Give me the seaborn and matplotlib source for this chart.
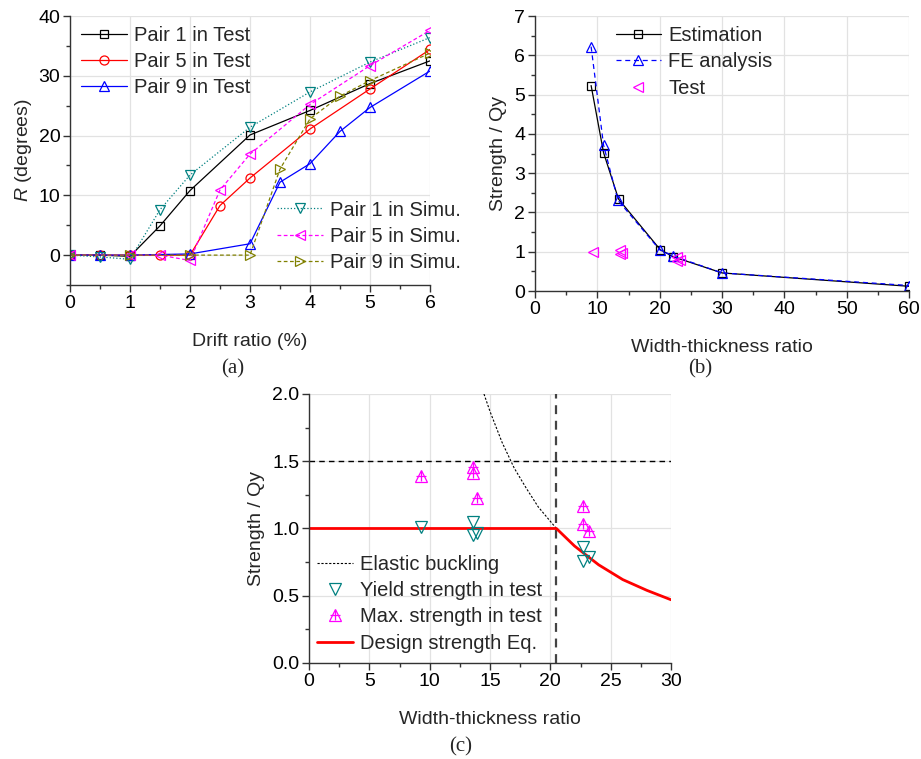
import matplotlib
matplotlib.use("Agg")
import matplotlib.pyplot as plt
from matplotlib.ticker import MultipleLocator, FormatStrFormatter
from matplotlib.lines import Line2D
import numpy as np
import pandas as pd
import seaborn as sns

# ---------------- data ----------------
# (a) residual rotation R vs drift ratio
drift_p1_test = [0, 0.5, 1, 1.5, 2, 3, 4, 5, 6]
r_p1_test = [0.0, 0.0, -0.2, 4.9, 10.8, 20.1, 24.2, 28.7, 32.5]
drift_p5_test = [0, 0.5, 1, 1.5, 2, 2.5, 3, 4, 5, 6]
r_p5_test = [0.0, 0.0, 0.0, 0.0, 0.0, 8.3, 12.9, 21.1, 27.8, 34.4]
drift_p9_test = [0, 0.5, 1, 2, 3, 3.5, 4, 4.5, 5, 6]
r_p9_test = [0.0, 0.0, 0.0, 0.2, 1.9, 12.2, 15.3, 20.7, 24.7, 30.8]
drift_p1_simu = [0, 0.5, 1, 1.5, 2, 3, 4, 5, 6]
r_p1_simu = [0.0, -0.3, -0.7, 7.6, 13.4, 21.4, 27.3, 32.3, 36.4]
drift_p5_simu = [0, 1, 1.5, 2, 2.5, 3, 4, 5, 6]
r_p5_simu = [0.0, 0.0, 0.0, -0.9, 10.9, 16.9, 25.2, 31.7, 37.6]
drift_p9_simu = [0, 1, 2, 3, 3.5, 4, 4.5, 5, 6]
r_p9_simu = [0.0, 0.0, 0.0, 0.0, 14.4, 22.8, 26.6, 29.2, 33.8]

# (b) strength ratio vs width-thickness ratio
wt_est = [9.0, 11.0, 13.4, 20.1, 22.2, 30.0, 60.0]
s_est = [5.23, 3.52, 2.34, 1.05, 0.87, 0.46, 0.12]
wt_fe = [9.0, 11.0, 13.3, 20.0, 22.2, 30.0, 60.0]
s_fe = [6.22, 3.71, 2.31, 1.05, 0.89, 0.46, 0.14]
wt_test = [9.3, 13.6, 13.6, 13.9, 22.7, 22.7, 23.2]
s_test = [1.00, 1.05, 0.95, 0.96, 0.86, 0.76, 0.79]

# (c) design check
wt_yield = [9.26, 13.63, 13.63, 13.9, 22.67, 22.67, 23.2]
s_yield = [1.01, 1.05, 0.95, 0.97, 0.86, 0.76, 0.79]
wt_max = [9.26, 13.63, 13.63, 13.9, 22.67, 22.67, 23.17]
s_max = [1.39, 1.46, 1.41, 1.23, 1.17, 1.03, 0.98]
wt_elastic = [14.5, 15.0, 16.0, 17.0, 18.0, 19.0, 20.5]
s_elastic = [2.00, 1.87, 1.64, 1.45, 1.30, 1.16, 1.00]
wt_design = [0, 20.5, 22.0, 24.0, 26.0, 28.0, 30.0]
s_design = [1.00, 1.00, 0.87, 0.73, 0.62, 0.54, 0.47]
limit_ratio = 20.5
upper_strength = 1.5

# ---------------- style ----------------
sns.set_theme(style="ticks")
plt.rcParams["font.family"] = ["Liberation Sans", "DejaVu Sans"]
plt.rcParams["mathtext.fontset"] = "custom"
plt.rcParams["mathtext.it"] = "Liberation Sans:italic"
plt.rcParams["mathtext.rm"] = "Liberation Sans"
plt.rcParams["xtick.direction"] = "out"
plt.rcParams["ytick.direction"] = "out"

FS = 14
LEG_FS = 14.5
SPINE = "#333333"
GRID = "#e2e2e2"
TEAL = "#008080"
OLIVE = "#808000"

fig = plt.figure(figsize=(9.21, 7.59), dpi=100)
ax_a = fig.add_axes([0.0760, 0.6245, 0.3909, 0.3544])
ax_b = fig.add_axes([0.5809, 0.6166, 0.4061, 0.3623])
ax_c = fig.add_axes([0.3355, 0.1265, 0.3931, 0.3544])


def style_axes(ax):
    sns.despine(ax=ax)
    for s in ("left", "bottom"):
        ax.spines[s].set_color(SPINE)
        ax.spines[s].set_linewidth(1.0)
    ax.grid(True, which="major", color=GRID, lw=0.9)
    ax.set_axisbelow(True)
    ax.tick_params(which="major", length=5, width=1.0, color=SPINE,
                   labelsize=FS, pad=2, labelcolor="black")
    ax.tick_params(which="minor", length=3, width=1.0, color=SPINE)
    ax.set_facecolor("white")


def series(ax, x, y, color, marker, ls, label, ms=6.5, lw=0.9):
    df = pd.DataFrame({"x": x, "y": y})
    sns.lineplot(data=df, x="x", y="y", ax=ax, color=color, marker=marker,
                 markersize=ms, markerfacecolor="none", markeredgecolor=color,
                 markeredgewidth=0.9, linestyle=ls, lw=lw, sort=False,
                 estimator=None, label=label, legend=False)
    return Line2D([], [], color=color, marker=marker, markersize=ms,
                  markerfacecolor="none", markeredgecolor=color,
                  markeredgewidth=0.9, linestyle=ls, lw=lw)


# ---------------- (a) ----------------
h1 = series(ax_a, drift_p1_test, r_p1_test, "black", "s", "-", "Pair 1 in Test", ms=5.5)
h5 = series(ax_a, drift_p5_test, r_p5_test, "red", "o", "-", "Pair 5 in Test", ms=6.5)
h9 = series(ax_a, drift_p9_test, r_p9_test, "blue", "^", "-", "Pair 9 in Test", ms=7.5)
g1 = series(ax_a, drift_p1_simu, r_p1_simu, TEAL, "v", ":", "Pair 1 in Simu.", ms=7.5)
g5 = series(ax_a, drift_p5_simu, r_p5_simu, "magenta", "<", "--", "Pair 5 in Simu.", ms=7.5)
g9 = series(ax_a, drift_p9_simu, r_p9_simu, OLIVE, ">", "--", "Pair 9 in Simu.", ms=7.5)
for h in (g5, g9):
    h.set_dashes((3, 2))
for ln in ax_a.get_lines()[4:6]:
    ln.set_dashes((3, 2))

ax_a.set_xlim(0, 6)
ax_a.set_ylim(-5, 40)
ax_a.xaxis.set_major_locator(MultipleLocator(1))
ax_a.xaxis.set_minor_locator(MultipleLocator(0.5))
ax_a.yaxis.set_major_locator(MultipleLocator(10))
ax_a.yaxis.set_minor_locator(MultipleLocator(5))
ax_a.set_xlabel("Drift ratio (%)", fontsize=FS, labelpad=15)
ax_a.set_ylabel("$R$ (degrees)", fontsize=FS, labelpad=3)
style_axes(ax_a)

leg_kw = dict(frameon=False, fontsize=LEG_FS, handlelength=2.25, handletextpad=0.35,
              labelspacing=0.36, borderpad=0.2, borderaxespad=0.0)
la1 = ax_a.legend([h1, h5, h9], ["Pair 1 in Test", "Pair 5 in Test", "Pair 9 in Test"],
                  loc="upper left", bbox_to_anchor=(0.02, 0.978), **leg_kw)
ax_a.add_artist(la1)
ax_a.legend([g1, g5, g9], ["Pair 1 in Simu.", "Pair 5 in Simu.", "Pair 9 in Simu."],
            loc="upper left", bbox_to_anchor=(0.565, 0.329), **leg_kw)

# ---------------- (b) ----------------
e1 = series(ax_b, wt_est, s_est, "black", "s", "-", "Estimation", ms=5.5)
e2 = series(ax_b, wt_fe, s_fe, "blue", "^", "--", "FE analysis", ms=7.5)
ax_b.get_lines()[1].set_dashes((4, 3))
e2.set_dashes((4, 3))
e3 = series(ax_b, wt_test, s_test, "magenta", "<", "none", "Test", ms=7.5)
ax_b.set_xlim(0, 60)
ax_b.set_ylim(0, 7)
ax_b.xaxis.set_major_locator(MultipleLocator(10))
ax_b.xaxis.set_minor_locator(MultipleLocator(5))
ax_b.yaxis.set_major_locator(MultipleLocator(1))
ax_b.yaxis.set_minor_locator(MultipleLocator(0.5))
ax_b.set_xlabel("Width-thickness ratio", fontsize=FS, labelpad=15)
ax_b.set_ylabel("Strength / Qy", fontsize=FS, labelpad=5)
style_axes(ax_b)
ax_b.legend([e1, e2, e3], ["Estimation", "FE analysis", "Test"],
            loc="upper left", bbox_to_anchor=(0.205, 0.978), **leg_kw)

# ---------------- (c) ----------------
ax_c.axhline(upper_strength, color="black", lw=1.0, ls=(0, (4, 3)))
ax_c.axvline(limit_ratio, color="#444444", lw=1.6, ls=(0, (4, 3)))
df_el = pd.DataFrame({"x": wt_elastic, "y": s_elastic})
sns.lineplot(data=df_el, x="x", y="y", ax=ax_c, color="black", lw=0.8,
             linestyle=(0, (2, 1.5)), sort=False, estimator=None)
df_ds = pd.DataFrame({"x": wt_design, "y": s_design})
sns.lineplot(data=df_ds, x="x", y="y", ax=ax_c, color="red", lw=2.0,
             sort=False, estimator=None)
df_y = pd.DataFrame({"x": wt_yield, "y": s_yield})
sns.lineplot(data=df_y, x="x", y="y", ax=ax_c, color=TEAL, marker="v",
             markersize=8, markerfacecolor="none", markeredgecolor=TEAL,
             markeredgewidth=0.9, linestyle="none", estimator=None, sort=False)
df_m = pd.DataFrame({"x": wt_max, "y": s_max})
sns.lineplot(data=df_m, x="x", y="y", ax=ax_c, color="magenta", marker="^",
             markersize=8, markerfacecolor="none", markeredgecolor="magenta",
             markeredgewidth=0.9, linestyle="none", estimator=None, sort=False)
sns.lineplot(data=df_m, x="x", y="y", ax=ax_c, color="magenta", marker="+",
             markersize=7, markeredgecolor="magenta",
             markeredgewidth=0.9, linestyle="none", estimator=None, sort=False)

ax_c.set_xlim(0, 30)
ax_c.set_ylim(0, 2)
ax_c.xaxis.set_major_locator(MultipleLocator(5))
ax_c.xaxis.set_minor_locator(MultipleLocator(2.5))
ax_c.yaxis.set_major_locator(MultipleLocator(0.5))
ax_c.yaxis.set_minor_locator(MultipleLocator(0.25))
ax_c.yaxis.set_major_formatter(FormatStrFormatter("%.1f"))
ax_c.set_xlabel("Width-thickness ratio", fontsize=FS, labelpad=15)
ax_c.set_ylabel("Strength / Qy", fontsize=FS, labelpad=5)
style_axes(ax_c)

hc1 = Line2D([], [], color="black", lw=0.8, linestyle=(0, (2, 1.5)))
hc2 = Line2D([], [], color=TEAL, marker="v", markersize=8, markerfacecolor="none",
             markeredgecolor=TEAL, markeredgewidth=0.9, linestyle="none")
hc3a = Line2D([], [], color="magenta", marker="^", markersize=8, markerfacecolor="none",
              markeredgecolor="magenta", markeredgewidth=0.9, linestyle="none")
hc3b = Line2D([], [], color="magenta", marker="+", markersize=7,
              markeredgecolor="magenta", markeredgewidth=0.9, linestyle="none")
hc4 = Line2D([], [], color="red", lw=2.0)
leg_c = dict(leg_kw)
leg_c["handlelength"] = 1.8
ax_c.legend([hc1, hc2, (hc3a, hc3b), hc4],
            ["Elastic buckling", "Yield strength in test", "Max. strength in test",
             "Design strength Eq."],
            loc="upper left", bbox_to_anchor=(0.01, 0.417), **leg_c)

# ---------------- panel captions ----------------
cap_kw = dict(fontsize=15, family=["Liberation Serif", "DejaVu Serif"],
              ha="center", va="center")
fig.text(233 / 921, 1 - 369 / 759, "(a)", **cap_kw)
fig.text(700 / 921, 1 - 369 / 759, "(b)", **cap_kw)
fig.text(461 / 921, 1 - 747 / 759, "(c)", **cap_kw)

fig.savefig("out.png", dpi=100, facecolor="white")
